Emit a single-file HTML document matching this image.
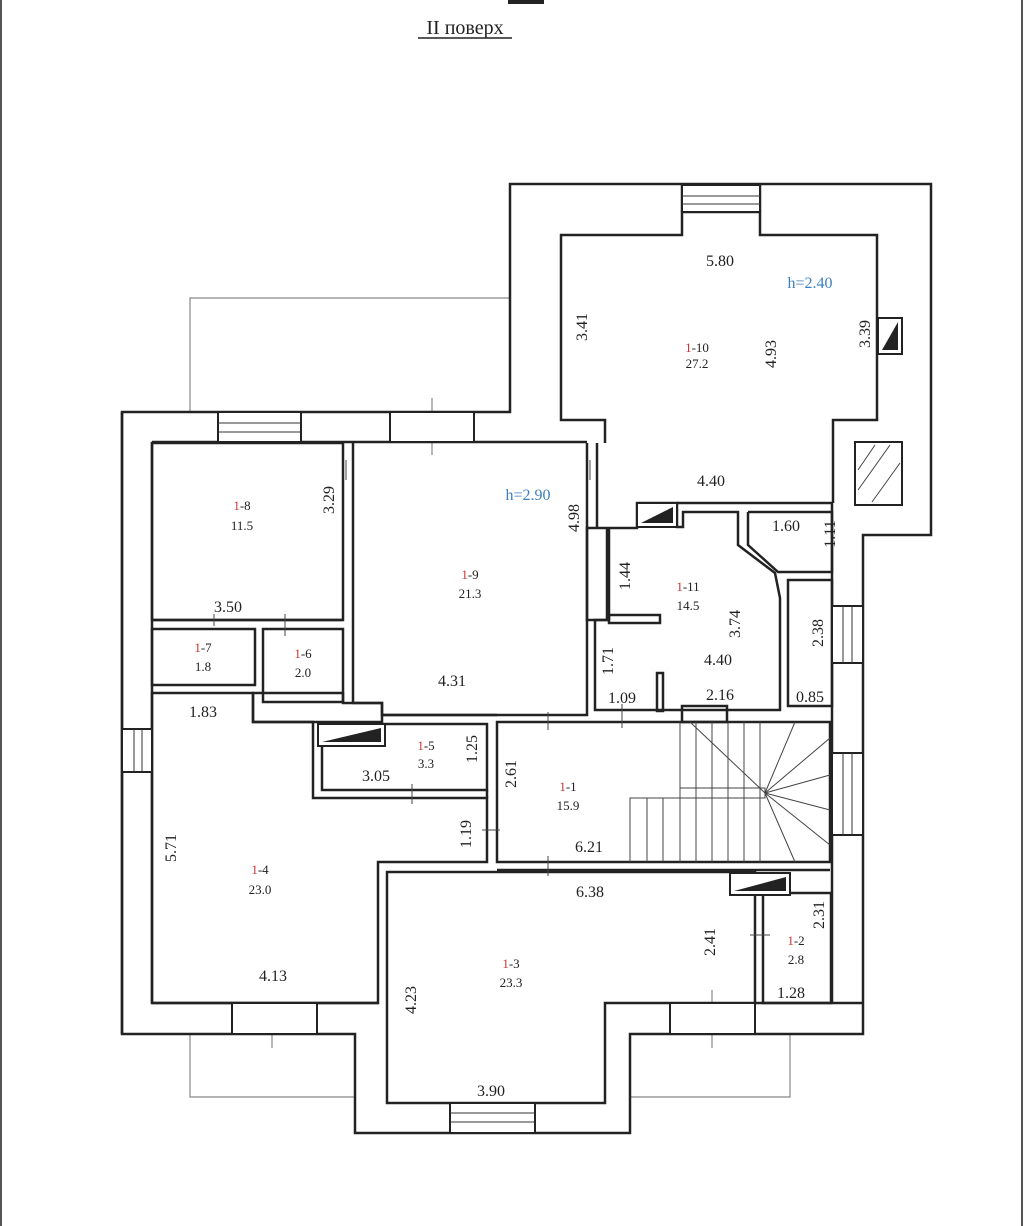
<!DOCTYPE html>
<html><head><meta charset="utf-8"><style>
html,body{margin:0;padding:0;background:#fff;}
svg{display:block}
text{font-family:"Liberation Serif",serif;fill:#222}
</style></head><body>
<svg width="1024" height="1226" viewBox="0 0 1024 1226" xmlns="http://www.w3.org/2000/svg">
<rect width="1024" height="1226" fill="#fff"/>
<line x1="1" y1="0" x2="1" y2="1226" stroke="#555" stroke-width="2"/>
<line x1="1022" y1="0" x2="1022" y2="1226" stroke="#555" stroke-width="2"/>
<rect x="508" y="0" width="36" height="4" fill="#222"/>
<text x="465" y="34" font-size="20" text-anchor="middle">II поверх</text>
<line x1="418" y1="38" x2="512" y2="38" stroke="#222" stroke-width="1.5"/>

<g fill="none" stroke="#888" stroke-width="1.2">
<polyline points="190,411 190,298 510,298"/>
<polyline points="190,1034 190,1097 355,1097"/>
<polyline points="790,1034 790,1097 630,1097"/>
<line x1="432" y1="398" x2="432" y2="455"/>
<line x1="272" y1="1010" x2="272" y2="1048"/>
<line x1="712" y1="990" x2="712" y2="1048"/>
</g>

<g fill="none" stroke="#222" stroke-width="2.5">
<!-- outer outline -->
<polygon points="510,184 931,184 931,535 863,535 863,1034 630,1034 630,1133 355,1133 355,1034 122,1034 122,412 510,412"/>
<!-- 1-10 -->
<polyline points="605,443 605,420 561,420 561,235 682,235 682,212 760,212 760,235 877,235 877,420 833,420 833,503"/>
<line x1="682" y1="185" x2="682" y2="212"/><line x1="760" y1="185" x2="760" y2="212"/>
<line x1="677" y1="503" x2="833" y2="503"/>
<!-- 1-8 -->
<polygon points="152,443 343,443 343,620 152,620"/>
<polyline points="152,442 587,442"/>
<!-- 1-9 -->
<polyline points="353,443 353,703 382,703 382,715 587,715 587,443"/>
<line x1="597" y1="443" x2="597" y2="528"/>
<rect x="587" y="528" width="20" height="92"/>
<!-- 1-7 1-6 -->
<rect x="152" y="629" width="103" height="56"/>
<rect x="263" y="629" width="80" height="73"/>
<line x1="152" y1="620" x2="343" y2="620"/>
<!-- beam -->
<polygon points="253,693 253,722 382,722 382,703 343,703 343,693"/>
<!-- 1-4 -->
<polygon points="152,693 253,693 253,722 313,722 313,798 487,798 487,862 378,862 378,1003 152,1003"/>
<!-- 1-5 -->
<rect x="322" y="724" width="165" height="66"/>
<!-- 1-1 -->
<polygon points="497,722 830,722 830,862 497,862"/>
<line x1="382" y1="715" x2="497" y2="715"/>
<line x1="487" y1="790" x2="487" y2="798"/>
<line x1="497" y1="870" x2="830" y2="870"/>
<!-- 1-11 -->
<polyline points="609,620 609,528 637,528 637,503 677,503 677,527 683,527 683,512 738,512 738,545 775,573 780,598 780,710 595,710 595,620 609,620"/>
<rect x="609" y="615" width="51" height="8"/>
<rect x="657" y="673" width="6" height="38"/>
<rect x="682" y="706" width="45" height="16"/>
<!-- 1.60 -->
<polyline points="748,512 832,512 832,572 778,572 748,545 748,512"/>
<rect x="788" y="580" width="44" height="126"/>
<line x1="832" y1="503" x2="832" y2="870"/>
<!-- 1-3 -->
<polygon points="387,872 755,872 755,1003 605,1003 605,1103 387,1103"/>
<!-- 1-2 -->
<rect x="763" y="893" width="68" height="110"/>
<line x1="755" y1="1003" x2="863" y2="1003"/>
<line x1="152" y1="1003" x2="378" y2="1003"/>
<!-- wall inner lines -->
<line x1="152" y1="442" x2="152" y2="1003"/>
<line x1="832" y1="870" x2="832" y2="1003"/>
<line x1="122" y1="412" x2="122" y2="1034"/>
</g>

<!-- windows -->
<g fill="#fff" stroke="#222" stroke-width="2">
<rect x="682" y="185" width="78" height="27"/>
<rect x="218" y="412" width="83" height="30"/>
<rect x="390" y="412" width="84" height="30"/>
<rect x="122" y="729" width="30" height="43"/>
<rect x="832" y="606" width="31" height="57"/>
<rect x="832" y="753" width="31" height="82"/>
<rect x="232" y="1003" width="85" height="31"/>
<rect x="670" y="1003" width="85" height="31"/>
<rect x="450" y="1103" width="85" height="30"/>
</g>
<g stroke="#333" stroke-width="1">
<line x1="682" y1="196" x2="760" y2="196"/><line x1="682" y1="204" x2="760" y2="204"/>
<line x1="218" y1="423" x2="301" y2="423"/><line x1="218" y1="432" x2="301" y2="432"/>
<line x1="134" y1="729" x2="134" y2="772"/><line x1="142" y1="729" x2="142" y2="772"/>
<line x1="843" y1="606" x2="843" y2="663"/><line x1="852" y1="606" x2="852" y2="663"/>
<line x1="843" y1="753" x2="843" y2="835"/><line x1="852" y1="753" x2="852" y2="835"/>
<line x1="450" y1="1113" x2="535" y2="1113"/><line x1="450" y1="1122" x2="535" y2="1122"/>
</g>

<!-- stairs -->
<g stroke="#444" stroke-width="1" fill="none">
<rect x="680" y="788" width="85" height="10" fill="#fff"/>
<line x1="680" y1="722" x2="680" y2="788"/><line x1="696" y1="722" x2="696" y2="862"/>
<line x1="712" y1="722" x2="712" y2="862"/><line x1="728" y1="722" x2="728" y2="862"/>
<line x1="744" y1="722" x2="744" y2="862"/><line x1="760" y1="722" x2="760" y2="862"/>
<polyline points="630,862 630,798 765,798"/>
<line x1="647" y1="798" x2="647" y2="862"/><line x1="663" y1="798" x2="663" y2="862"/><line x1="680" y1="798" x2="680" y2="862"/>
<line x1="765" y1="793" x2="690" y2="722"/>
<line x1="765" y1="793" x2="795" y2="722"/>
<line x1="765" y1="793" x2="830" y2="738"/>
<line x1="765" y1="793" x2="830" y2="775"/>
<line x1="765" y1="793" x2="830" y2="810"/>
<line x1="765" y1="793" x2="830" y2="845"/>
<line x1="765" y1="793" x2="795" y2="862"/>
</g>

<!-- chimneys / vents -->
<g stroke="#222" stroke-width="2" fill="#fff">
<rect x="878" y="318" width="24" height="36"/>
<rect x="637" y="503" width="40" height="24"/>
<rect x="318" y="724" width="67" height="22"/>
<rect x="730" y="873" width="60" height="22"/>
<rect x="855" y="442" width="47" height="63"/>
</g>
<g fill="#222">
<polygon points="882,350 898,322 898,350"/>
<polygon points="641,523 673,507 673,523"/>
<polygon points="322,742 381,728 381,742"/>
<polygon points="734,891 786,877 786,891"/>
</g>
<g stroke="#444" stroke-width="1"><line x1="858" y1="490" x2="890" y2="445"/><line x1="858" y1="470" x2="875" y2="445"/><line x1="872" y1="502" x2="900" y2="463"/></g>

<!-- door ticks -->
<g stroke="#444" stroke-width="1">
<line x1="346" y1="460" x2="346" y2="480"/><line x1="590" y1="460" x2="590" y2="480"/>
<line x1="214" y1="614" x2="214" y2="626"/><line x1="285" y1="614" x2="285" y2="636"/>
<line x1="412" y1="784" x2="412" y2="804"/><line x1="548" y1="712" x2="548" y2="730"/>
<line x1="622" y1="704" x2="622" y2="728"/><line x1="482" y1="830" x2="500" y2="830"/>
<line x1="548" y1="856" x2="548" y2="876"/><line x1="750" y1="935" x2="770" y2="935"/>
</g>

<g font-size="16">
<text x="720" y="266" text-anchor="middle">5.80</text>
<text x="810" y="288" text-anchor="middle" fill="#3a7fc1" style="fill:#3a7fc1">h=2.40</text>
<text x="528" y="500" text-anchor="middle" style="fill:#3a7fc1">h=2.90</text>
<text x="711" y="486" text-anchor="middle">4.40</text>
<text x="786" y="531" text-anchor="middle">1.60</text>
<text x="228" y="612" text-anchor="middle">3.50</text>
<text x="452" y="686" text-anchor="middle">4.31</text>
<text x="718" y="665" text-anchor="middle">4.40</text>
<text x="622" y="703" text-anchor="middle">1.09</text>
<text x="720" y="700" text-anchor="middle">2.16</text>
<text x="810" y="702" text-anchor="middle">0.85</text>
<text x="203" y="717" text-anchor="middle">1.83</text>
<text x="376" y="781" text-anchor="middle">3.05</text>
<text x="589" y="852" text-anchor="middle">6.21</text>
<text x="590" y="897" text-anchor="middle">6.38</text>
<text x="273" y="981" text-anchor="middle">4.13</text>
<text x="791" y="998" text-anchor="middle">1.28</text>
<text x="491" y="1096" text-anchor="middle">3.90</text>
</g>
<g font-size="16">
<text transform="translate(587,327) rotate(-90)" text-anchor="middle">3.41</text>
<text transform="translate(776,354) rotate(-90)" text-anchor="middle">4.93</text>
<text transform="translate(870,334) rotate(-90)" text-anchor="middle">3.39</text>
<text transform="translate(835,534) rotate(-90)" text-anchor="middle">1.11</text>
<text transform="translate(334,500) rotate(-90)" text-anchor="middle">3.29</text>
<text transform="translate(579,518) rotate(-90)" text-anchor="middle">4.98</text>
<text transform="translate(630,576) rotate(-90)" text-anchor="middle">1.44</text>
<text transform="translate(740,624) rotate(-90)" text-anchor="middle">3.74</text>
<text transform="translate(823,633) rotate(-90)" text-anchor="middle">2.38</text>
<text transform="translate(613,661) rotate(-90)" text-anchor="middle">1.71</text>
<text transform="translate(477,749) rotate(-90)" text-anchor="middle">1.25</text>
<text transform="translate(516,774) rotate(-90)" text-anchor="middle">2.61</text>
<text transform="translate(471,834) rotate(-90)" text-anchor="middle">1.19</text>
<text transform="translate(176,848) rotate(-90)" text-anchor="middle">5.71</text>
<text transform="translate(715,942) rotate(-90)" text-anchor="middle">2.41</text>
<text transform="translate(824,915) rotate(-90)" text-anchor="middle">2.31</text>
<text transform="translate(416,1000) rotate(-90)" text-anchor="middle">4.23</text>
</g>
<g font-size="13" text-anchor="middle">
<text x="697" y="352"><tspan style="fill:#c33">1</tspan>-10</text><text x="697" y="368">27.2</text>
<text x="242" y="510"><tspan style="fill:#c33">1</tspan>-8</text><text x="242" y="530">11.5</text>
<text x="470" y="579"><tspan style="fill:#c33">1</tspan>-9</text><text x="470" y="598">21.3</text>
<text x="688" y="591"><tspan style="fill:#c33">1</tspan>-11</text><text x="688" y="610">14.5</text>
<text x="203" y="652"><tspan style="fill:#c33">1</tspan>-7</text><text x="203" y="671">1.8</text>
<text x="303" y="658"><tspan style="fill:#c33">1</tspan>-6</text><text x="303" y="677">2.0</text>
<text x="426" y="750"><tspan style="fill:#c33">1</tspan>-5</text><text x="426" y="768">3.3</text>
<text x="568" y="791"><tspan style="fill:#c33">1</tspan>-1</text><text x="568" y="810">15.9</text>
<text x="260" y="874"><tspan style="fill:#c33">1</tspan>-4</text><text x="260" y="894">23.0</text>
<text x="511" y="968"><tspan style="fill:#c33">1</tspan>-3</text><text x="511" y="987">23.3</text>
<text x="796" y="945"><tspan style="fill:#c33">1</tspan>-2</text><text x="796" y="964">2.8</text>
</g>
</svg>
</body></html>
